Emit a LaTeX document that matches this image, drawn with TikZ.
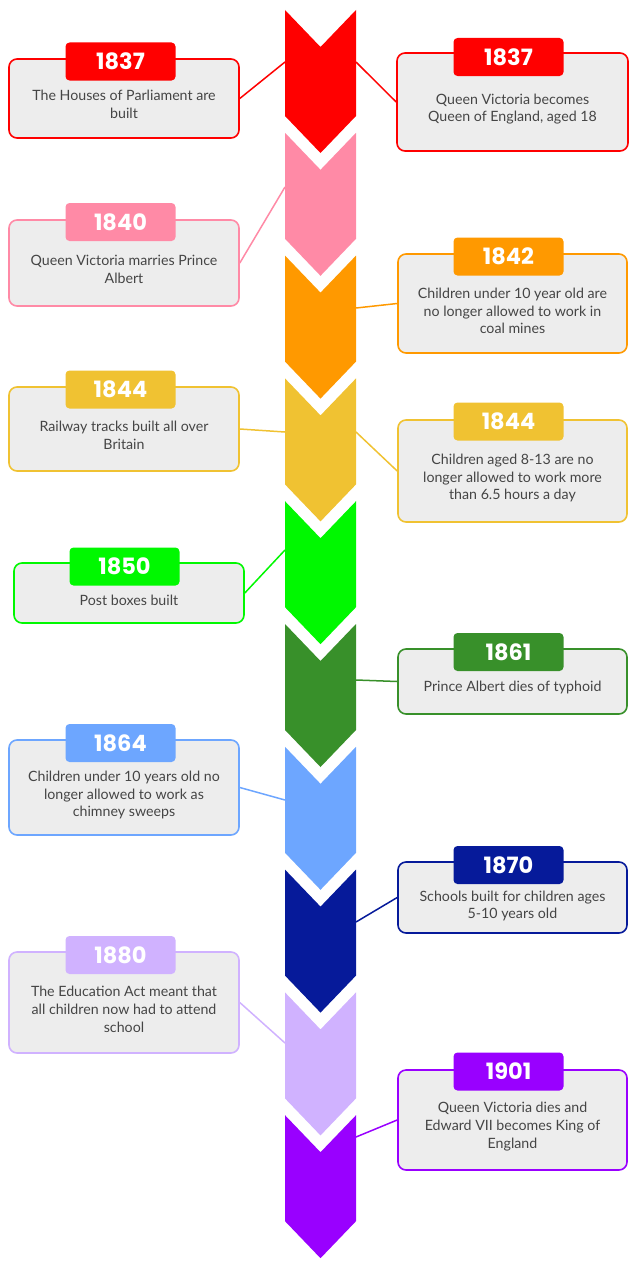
\documentclass[tikz,border=0pt]{standalone}
\usepackage{fontspec}
\setmainfont{Lato}
\newfontfamily\yearff{Poppins}
\definecolor{cRed}{HTML}{FF0000}
\definecolor{cPink}{HTML}{FF8AA6}
\definecolor{cOrange}{HTML}{FF9900}
\definecolor{cYellow}{HTML}{F0C232}
\definecolor{cGreen}{HTML}{00F800}
\definecolor{cDkGreen}{HTML}{38902A}
\definecolor{cLtBlue}{HTML}{6DA6FF}
\definecolor{cNavy}{HTML}{061A9A}
\definecolor{cLav}{HTML}{D0B2FF}
\definecolor{cPurple}{HTML}{9900FF}
\definecolor{boxgray}{HTML}{EDEDED}
\definecolor{textgray}{HTML}{454545}
\begin{document}
\begin{tikzpicture}[x=1pt,y=-1pt,
  evbox/.style={rounded corners=8pt, fill=boxgray, line width=1.6pt, minimum width=230pt, inner sep=0pt},
  yeartab/.style={rounded corners=4pt, minimum width=110pt, minimum height=38pt, inner sep=0pt, text=white, font=\yearff\bfseries\fontsize{22.5}{24}\selectfont},
  body/.style={align=center, text=textgray, inner sep=0pt, font=\fontsize{14.2}{17.8}\selectfont},
  conn/.style={line width=1.5pt}]
\useasboundingbox (0,0) rectangle (640,1263);
% chevrons
\foreach \c [count=\i from 0] in {cRed,cPink,cOrange,cYellow,cGreen,cDkGreen,cLtBlue,cNavy,cLav,cPurple} {
  \pgfmathsetmacro\t{10+122.8*\i}
  \fill[\c] (285,\t) -- (320.5,\t+37) -- (356,\t) -- (356,\t+106) -- (320.5,\t+143) -- (285,\t+106) -- cycle;
}
% chevron attachment points
\coordinate (pRedL) at (285,62);
\coordinate (pRedR) at (356,62);
\coordinate (pPinkL) at (285,187);
\coordinate (pOrangeR) at (356,308);
\coordinate (pYellowL) at (285,432);
\coordinate (pYellowR) at (356,432);
\coordinate (pGreenL) at (285,550);
\coordinate (pDkGreenR) at (356,680);
\coordinate (pLtBlueL) at (285,800);
\coordinate (pNavyR) at (356,922);
\coordinate (pLavL) at (285,1043);
\coordinate (pPurpleR) at (356,1137);
% boxes
\node[evbox, draw=cRed, minimum height=79pt] (b1) at (124,98.5) {};
\node[evbox, draw=cRed, minimum height=98pt, minimum width=231pt] (b2) at (512.5,102) {};
\node[evbox, draw=cPink, minimum height=86pt] (b3) at (124,263) {};
\node[evbox, draw=cOrange, minimum height=99pt, minimum width=229pt] (b4) at (512.5,303.5) {};
\node[evbox, draw=cYellow, minimum height=84pt] (b5) at (124,429) {};
\node[evbox, draw=cYellow, minimum height=102pt, minimum width=229pt] (b6) at (512.5,471) {};
\node[evbox, draw=cGreen, minimum height=60pt] (b7) at (129,593) {};
\node[evbox, draw=cDkGreen, minimum height=65pt, minimum width=229pt] (b8) at (512.5,681.5) {};
\node[evbox, draw=cLtBlue, minimum height=95pt] (b9) at (124,787.5) {};
\node[evbox, draw=cNavy, minimum height=71pt, minimum width=229pt] (b10) at (512.5,897.5) {};
\node[evbox, draw=cLav, minimum height=101pt] (b11) at (124,1002.5) {};
\node[evbox, draw=cPurple, minimum height=100pt, minimum width=229pt] (b12) at (512.5,1120) {};
% connectors
\draw[conn, cRed] (b1.east) -- (pRedL);
\draw[conn, cRed] (pRedR) -- (b2.west);
\draw[conn, cPink] (b3.east) -- (pPinkL);
\draw[conn, cOrange] (pOrangeR) -- (b4.west);
\draw[conn, cYellow] (b5.east) -- (pYellowL);
\draw[conn, cYellow] (pYellowR) -- (b6.west);
\draw[conn, cGreen] (b7.east) -- (pGreenL);
\draw[conn, cDkGreen] (pDkGreenR) -- (b8.west);
\draw[conn, cLtBlue] (b9.east) -- (pLtBlueL);
\draw[conn, cNavy] (pNavyR) -- (b10.west);
\draw[conn, cLav] (b11.east) -- (pLavL);
\draw[conn, cPurple] (pPurpleR) -- (b12.west);
% year tabs
\node[yeartab, fill=cRed] (t1) at (120.5,61.5) {1837};
\node[yeartab, fill=cRed] (t2) at (508.5,57) {1837};
\node[yeartab, fill=cPink] (t3) at (120.5,222) {1840};
\node[yeartab, fill=cOrange] (t4) at (508.5,256.5) {1842};
\node[yeartab, fill=cYellow] (t5) at (120.5,389.5) {1844};
\node[yeartab, fill=cYellow] (t6) at (508.5,421.5) {1844};
\node[yeartab, fill=cGreen] (t7) at (124.5,566.5) {1850};
\node[yeartab, fill=cDkGreen] (t8) at (508.5,652) {1861};
\node[yeartab, fill=cLtBlue] (t9) at (120.5,743) {1864};
\node[yeartab, fill=cNavy] (t10) at (508.5,865) {1870};
\node[yeartab, fill=cLav] (t11) at (120.5,955) {1880};
\node[yeartab, fill=cPurple] (t12) at (508.5,1071.5) {1901};
% texts
\node[body] (x1) at (124,104) {The Houses of Parliament are\\built};
\node[body] (x2) at (512.5,109) {Queen Victoria becomes\\Queen of England, aged 18};
\node[body] (x3) at (124,269) {Queen Victoria marries Prince\\Albert};
\node[body] (x4) at (512.5,311) {Children under 10 year old are\\no longer allowed to work in\\coal mines};
\node[body] (x5) at (124,435) {Railway tracks built all over\\Britain};
\node[body] (x6) at (512.5,478) {Children aged 8-13 are no\\longer allowed to work more\\than 6.5 hours a day};
\node[body] (x7) at (129,600.5) {Post boxes built};
\node[body] (x8) at (512.5,687.5) {Prince Albert dies of typhoid};
\node[body] (x9) at (124,795) {Children under 10 years old no\\longer allowed to work as\\chimney sweeps};
\node[body] (x10) at (512.5,906) {Schools built for children ages\\5-10 years old};
\node[body] (x11) at (124,1009.5) {The Education Act meant that\\all children now had to attend\\school};
\node[body] (x12) at (512.5,1126.5) {Queen Victoria dies and\\Edward VII becomes King of\\England};
\end{tikzpicture}
\end{document}
